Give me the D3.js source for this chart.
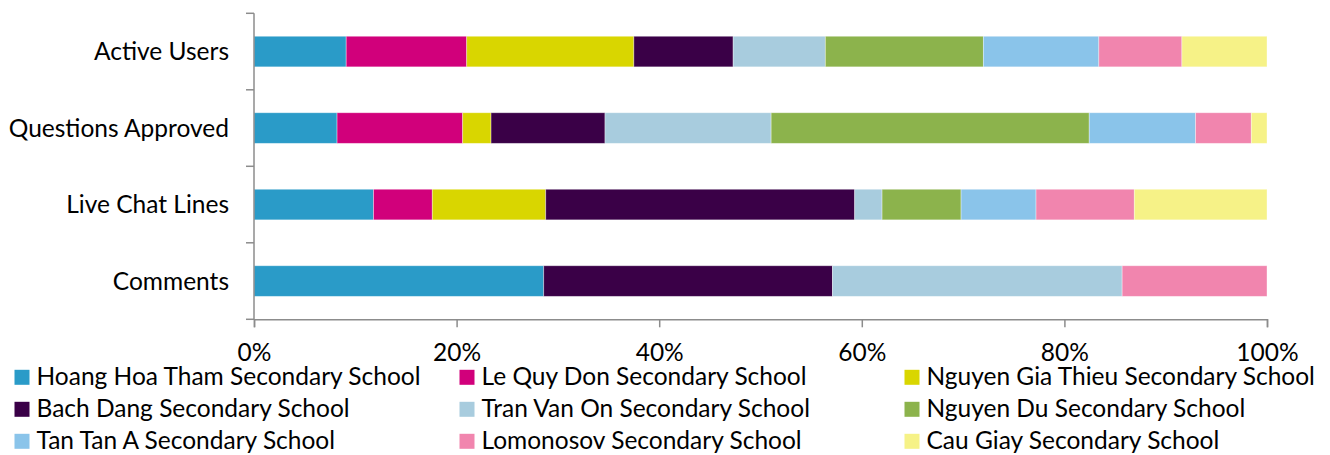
<!DOCTYPE html>
<html>
<head>
<meta charset="utf-8">
<script src="https://cdn.jsdelivr.net/npm/d3@7"></script>
<style>
  html, body { margin: 0; padding: 0; background: #fff; }
  svg { display: block; }
  text { font-family: Lato, "Open Sans", sans-serif; fill: #000; }
</style>
</head>
<body>
<svg id="chart" width="1330" height="455"></svg>
<script>
// Categories (top to bottom)
const categories = ["Active Users", "Questions Approved", "Live Chat Lines", "Comments"];

// Series names (legend order)
const schools = [
  "Hoang Hoa Tham Secondary School",
  "Le Quy Don Secondary School",
  "Nguyen Gia Thieu Secondary School",
  "Bach Dang Secondary School",
  "Tran Van On Secondary School",
  "Nguyen Du Secondary School",
  "Tan Tan A Secondary School",
  "Lomonosov Secondary School",
  "Cau Giay Secondary School"
];

// Share (%) per category: [Active Users, Questions Approved, Live Chat Lines, Comments]
const hoangHoaTham   = [9.1, 8.2, 11.8, 28.6];
const leQuyDon       = [11.9, 12.4, 5.8, 0];
const nguyenGiaThieu = [16.5, 2.8, 11.2, 0];
const bachDang       = [9.8, 11.25, 30.5, 28.5];
const tranVanOn      = [9.1, 16.4, 2.7, 28.6];
const nguyenDu       = [15.6, 31.4, 7.8, 0];
const tanTanA        = [11.4, 10.5, 7.4, 0];
const lomonosov      = [8.2, 5.5, 9.7, 14.3];
const cauGiay        = [8.4, 1.55, 13.1, 0];

const seriesValues = [hoangHoaTham, leQuyDon, nguyenGiaThieu, bachDang, tranVanOn, nguyenDu, tanTanA, lomonosov, cauGiay];

const colors = ["#2A9BC8", "#D1007B", "#D9D600", "#3A0047", "#A8CCDE", "#8CB34C", "#8AC4EA", "#F185AE", "#F6F287"];

const xTicks = [0, 0.2, 0.4, 0.6, 0.8, 1.0];

// Build table for stacking
const table = categories.map((c, i) => {
  const row = { category: c };
  schools.forEach((s, j) => { row[s] = seriesValues[j][i]; });
  return row;
});

const stack = d3.stack().keys(schools).offset(d3.stackOffsetExpand);
const stacked = stack(table);

const svg = d3.select("#chart");
const x = d3.scaleLinear().domain([0, 1]).range([254, 1267]);
const y = d3.scaleBand().domain(categories).range([13.3, 319.3]).paddingInner(0.6).paddingOuter(0.3);
const color = d3.scaleOrdinal().domain(schools).range(colors);

const axisColor = "#8C8C8C";
const fontSize = "24.5px";

// Bars
svg.append("g").selectAll("g")
  .data(stacked)
  .join("g")
  .attr("fill", d => color(d.key))
  .selectAll("rect")
  .data(d => d.filter(p => p[1] - p[0] > 0))
  .join("rect")
  .attr("x", d => x(d[0]))
  .attr("y", d => y(d.data.category))
  .attr("width", d => x(d[1]) - x(d[0]))
  .attr("height", y.bandwidth())
  .attr("stroke", "rgba(255,255,255,0.45)")
  .attr("stroke-width", 0.8);

// Y axis: line + ticks at band boundaries
const r0 = y.range()[0], step = y.step();
const yAxisG = svg.append("g");
yAxisG.append("line")
  .attr("x1", x(0)).attr("x2", x(0))
  .attr("y1", r0).attr("y2", r0 + step * categories.length)
  .attr("stroke", axisColor).attr("stroke-width", 1.5);
yAxisG.selectAll("line.tick")
  .data(d3.range(categories.length + 1))
  .join("line")
  .attr("class", "tick")
  .attr("x1", x(0) - 8).attr("x2", x(0))
  .attr("y1", i => r0 + step * i).attr("y2", i => r0 + step * i)
  .attr("stroke", axisColor).attr("stroke-width", 1.5);

// Category labels
svg.append("g").selectAll("text")
  .data(categories)
  .join("text")
  .attr("x", 229)
  .attr("y", c => y(c) + y.bandwidth() / 2)
  .attr("dy", "0.36em")
  .attr("text-anchor", "end")
  .style("font-size", fontSize)
  .text(c => c);

// X axis
const xAxis = d3.axisBottom(x).tickValues(xTicks).tickFormat(d3.format(".0%")).tickSize(8).tickPadding(16);
const xg = svg.append("g").attr("transform", `translate(0,${r0 + step * categories.length})`).call(xAxis);
xg.select(".domain").attr("stroke", axisColor).attr("stroke-width", 1.5);
xg.selectAll(".tick line").attr("stroke", axisColor).attr("stroke-width", 1.5);
xg.selectAll(".tick text")
  .style("font-family", "Lato, 'Open Sans', sans-serif")
  .style("font-size", fontSize)
  .attr("fill", "#000");

// Legend
const legendCols = [14.5, 459.5, 904.5];
const legendRows = [385.3, 417.3, 449.3];
const legend = svg.append("g").selectAll("g")
  .data(schools)
  .join("g")
  .attr("transform", (s, i) => `translate(${legendCols[i % 3]},${legendRows[Math.floor(i / 3)]})`);
legend.append("rect")
  .attr("x", 0).attr("y", -15.5)
  .attr("width", 15).attr("height", 15)
  .attr("fill", s => color(s));
legend.append("text")
  .attr("x", 22)
  .attr("y", 0)
  .style("font-size", fontSize)
  .text(s => s);
</script>
</body>
</html>
